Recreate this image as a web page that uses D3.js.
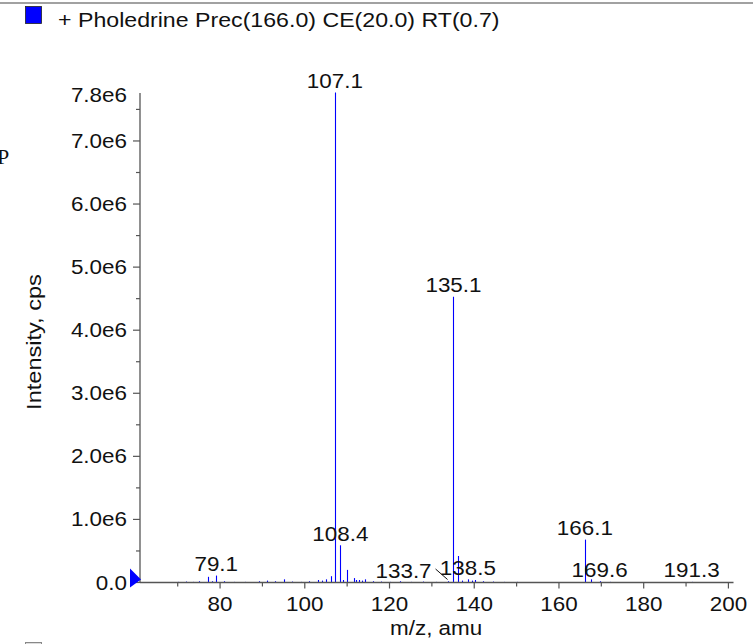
<!DOCTYPE html>
<html>
<head>
<meta charset="utf-8">
<script src="https://cdn.jsdelivr.net/npm/d3@7"></script>
<style>
  html, body { margin: 0; padding: 0; background: #fff; }
  svg { display: block; }
  text { font-family: "Liberation Sans", Arial, Helvetica, sans-serif; fill: #111; }
</style>
</head>
<body>
<svg id="chart" width="753" height="644"></svg>
<script>
// ---- data (m/z, intensity in cps) ----
const title = "+ Pholedrine Prec(166.0) CE(20.0) RT(0.7)";
const xTitle = "m/z, amu";
const yTitle = "Intensity, cps";

const peakMz = [70.1, 72.0, 73.5, 75.0, 77.2, 78.0, 79.1, 81.0, 83.2, 86.0, 89.1, 91.1, 93.0, 95.1, 97.0,
  99.0, 101.0, 103.1, 104.1, 105.0, 106.2, 107.1, 108.4, 109.1, 110.0, 111.5, 112.1, 112.7, 113.5, 114.2,
  116.0, 118.1, 120.0, 122.5, 125.0, 128.0, 131.0, 133.7, 135.1, 136.2, 137.1, 138.5, 139.5, 140.2,
  142.0, 144.5, 147.0, 150.0, 166.1, 167.5, 169.6, 172.0, 191.3];
const peakIntensity = [0.01e6, 0.015e6, 0.01e6, 0.02e6, 0.09e6, 0.02e6, 0.11e6, 0.02e6, 0.01e6, 0.01e6, 0.02e6, 0.03e6, 0.02e6, 0.05e6, 0.015e6,
  0.01e6, 0.02e6, 0.04e6, 0.03e6, 0.05e6, 0.1e6, 7.77e6, 0.59e6, 0.04e6, 0.2e6, 0.07e6, 0.04e6, 0.04e6, 0.03e6, 0.05e6,
  0.02e6, 0.015e6, 0.01e6, 0.02e6, 0.01e6, 0.015e6, 0.01e6, 0.02e6, 4.53e6, 0.42e6, 0.03e6, 0.05e6, 0.03e6, 0.04e6,
  0.02e6, 0.015e6, 0.01e6, 0.01e6, 0.68e6, 0.05e6, 0.02e6, 0.01e6, 0.01e6];

const labelText = ["107.1", "135.1", "108.4", "166.1", "79.1", "133.7", "138.5", "169.6", "191.3"];
const labelMz = [107.1, 135.1, 108.4, 166.1, 79.1, 133.7, 138.5, 169.6, 191.3];

const xTickMajor = [80, 100, 120, 140, 160, 180, 200];
const xTickMinor = [70, 90, 110, 130, 150, 170, 190];
const yTickMajor = [0, 1e6, 2e6, 3e6, 4e6, 5e6, 6e6, 7e6];
const yTickMinor = [0.5e6, 1.5e6, 2.5e6, 3.5e6, 4.5e6, 5.5e6, 6.5e6, 7.5e6];
const yTopLabel = 7.8e6;

// ---- layout ----
const FS = 19.5, SX = 1.15;
const svg = d3.select("#chart");
const x = d3.scaleLinear().domain([61.1, 201.2]).range([140, 733.5]);
const y = d3.scaleLinear().domain([0, 7.8e6]).range([582.5, 90.5]);
const axisColor = "#555";

function stext(g, tx, ty, str, anchor, fs, sx) {
  return g.append("text")
    .attr("transform", `translate(${tx},${ty}) scale(${sx || SX},1)`)
    .attr("text-anchor", anchor)
    .attr("font-size", fs || FS)
    .text(str);
}

// top border line
svg.append("line").attr("x1", 0).attr("x2", 753).attr("y1", 3).attr("y2", 3)
  .attr("stroke", "#444").attr("stroke-width", 1.2);

// legend square + title
svg.append("rect").attr("x", 25.5).attr("y", 6.5).attr("width", 16).attr("height", 17)
  .attr("fill", "#0000ff").attr("stroke", "#222").attr("stroke-width", 0.8);
stext(svg, 58, 26.5, title, "start", 19.8, 1.17);

// clipped glyph at left edge
svg.append("text").attr("x", -3).attr("y", 164).attr("font-size", 22)
  .style("font-family", "'Liberation Serif', 'DejaVu Serif', serif").text("P");

// clipped square at bottom-left
svg.append("rect").attr("x", 25.5).attr("y", 642.5).attr("width", 16).attr("height", 17)
  .attr("fill", "#ddd").attr("stroke", "#888").attr("stroke-width", 1);

const g = svg.append("g");

// peaks
g.selectAll("line.peak").data(peakMz).join("line")
  .attr("class", "peak")
  .attr("x1", (d) => Math.round(x(d)) + 0.5).attr("x2", (d) => Math.round(x(d)) + 0.5)
  .attr("y1", y(0)).attr("y2", (d, i) => y(peakIntensity[i]))
  .attr("stroke", "#0000ff").attr("stroke-width", 1.1);

// axes
g.append("line").attr("x1", x.range()[0]).attr("x2", x.range()[1]).attr("y1", y(0)).attr("y2", y(0))
  .attr("stroke", axisColor).attr("stroke-width", 1.3);
g.append("line").attr("x1", 140).attr("x2", 140).attr("y1", y(0)).attr("y2", 93)
  .attr("stroke", axisColor).attr("stroke-width", 1.3);

g.selectAll("line.xmaj").data(xTickMajor).join("line").attr("class", "xmaj")
  .attr("x1", (d) => x(d)).attr("x2", (d) => x(d)).attr("y1", y(0)).attr("y2", y(0) + 6)
  .attr("stroke", axisColor).attr("stroke-width", 1.2);
g.selectAll("line.xmin").data(xTickMinor).join("line").attr("class", "xmin")
  .attr("x1", (d) => x(d)).attr("x2", (d) => x(d)).attr("y1", y(0)).attr("y2", y(0) + 4)
  .attr("stroke", axisColor).attr("stroke-width", 1.2);
xTickMajor.forEach((d) => stext(g, x(d), 611, String(d), "middle"));

g.selectAll("line.ymaj").data(yTickMajor).join("line").attr("class", "ymaj")
  .attr("x1", 133).attr("x2", 140).attr("y1", (d) => y(d)).attr("y2", (d) => y(d))
  .attr("stroke", axisColor).attr("stroke-width", 1.2);
g.selectAll("line.ymin").data(yTickMinor).join("line").attr("class", "ymin")
  .attr("x1", 136).attr("x2", 140).attr("y1", (d) => y(d)).attr("y2", (d) => y(d))
  .attr("stroke", axisColor).attr("stroke-width", 1.2);
const fmtY = (d) => d === 0 ? "0.0" : (d / 1e6).toFixed(1) + "e6";
yTickMajor.concat([yTopLabel]).forEach((d) => {
  const yy = d === yTopLabel ? 101.5 : y(d) + 7;
  stext(g, 127, yy, fmtY(d), "end");
});

// zero marker triangle
g.append("path")
  .attr("d", `M130,${y(0) - 14}L141,${y(0) - 3}L130,${y(0) + 5}Z`)
  .attr("fill", "#0000ff");

// axis titles
stext(svg, x(131), 635, xTitle, "middle");
svg.append("text")
  .attr("transform", `translate(41,342) scale(1,${SX}) rotate(-90)`)
  .attr("text-anchor", "middle")
  .attr("font-size", 20.5)
  .text(yTitle);

// peak labels
labelMz.forEach((m, i) => {
  let k = 0;
  peakMz.forEach((p, j) => { if (Math.abs(p - m) < Math.abs(peakMz[k] - m)) k = j; });
  const top = y(peakIntensity[k]);
  const ly = Math.min(top - 4.5, 577);
  if (labelText[i] === "133.7") {
    const lx = x(m) - 44;
    stext(g, lx, 578, labelText[i], "middle");
    g.append("line").attr("x1", lx + 32).attr("y1", 569).attr("x2", x(m)).attr("y2", 579.5)
      .attr("stroke", "#111").attr("stroke-width", 1);
  } else {
    stext(g, x(m), ly, labelText[i], "middle");
  }
});
</script>
</body>
</html>
